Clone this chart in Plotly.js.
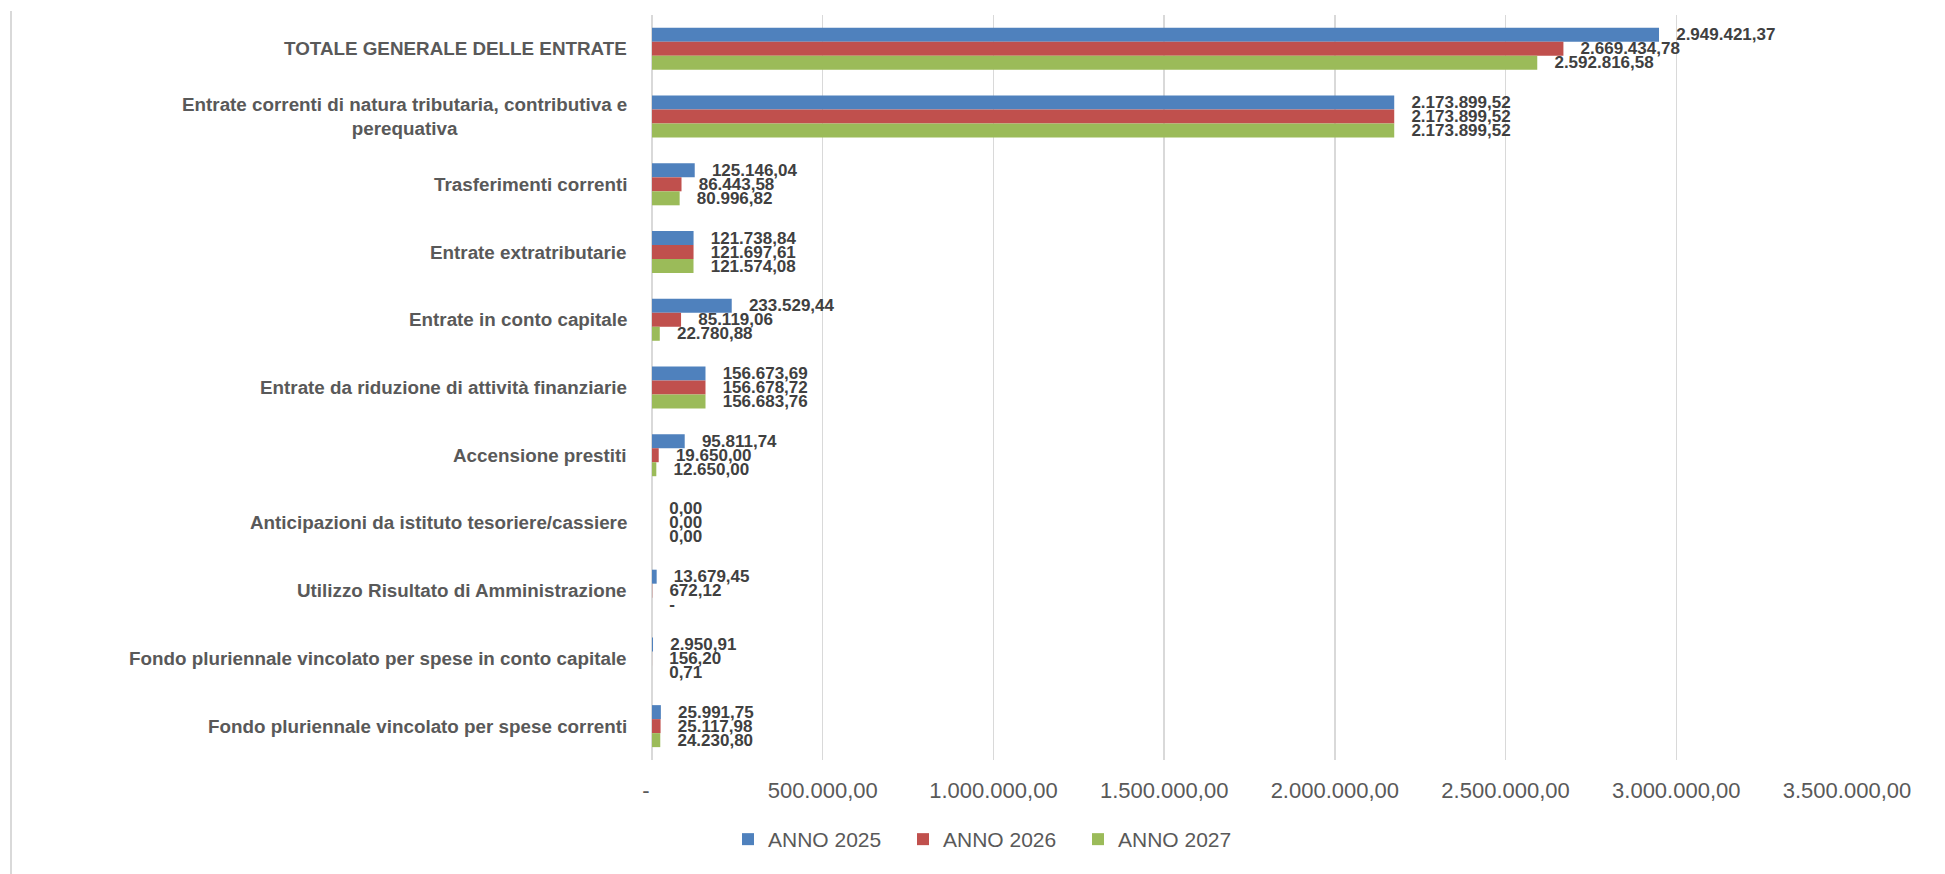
<!DOCTYPE html>
<html>
<head>
<meta charset="utf-8">
<script src="https://cdn.plot.ly/plotly-3.0.1.min.js"></script>
<style>
html,body{margin:0;padding:0;background:#ffffff;}
#chart{width:1945px;height:874px;}
</style>
</head>
<body>
<div id="chart"></div>
<script>
// ---- DATA ----
const categories = [
  'TOTALE GENERALE DELLE ENTRATE',
  'Entrate correnti di natura tributaria, contributiva e<br>perequativa',
  'Trasferimenti correnti',
  'Entrate extratributarie',
  'Entrate in conto capitale',
  'Entrate da riduzione di attività finanziarie',
  'Accensione prestiti',
  'Anticipazioni da istituto tesoriere/cassiere',
  'Utilizzo Risultato di Amministrazione',
  'Fondo pluriennale vincolato per spese in conto capitale',
  'Fondo pluriennale vincolato per spese correnti'
];
const seriesNames = ['ANNO 2025', 'ANNO 2026', 'ANNO 2027'];
const anno2025 = [2949421.37, 2173899.52, 125146.04, 121738.84, 233529.44, 156673.69, 95811.74, 0, 13679.45, 2950.91, 25991.75];
const anno2026 = [2669434.78, 2173899.52, 86443.58, 121697.61, 85119.06, 156678.72, 19650.00, 0, 672.12, 156.20, 25117.98];
const anno2027 = [2592816.58, 2173899.52, 80996.82, 121574.08, 22780.88, 156683.76, 12650.00, 0, null, 0.71, 24230.80];
const seriesColors = ['#4F81BD', '#C0504D', '#9BBB59'];
const tickValues = [0, 500000, 1000000, 1500000, 2000000, 2500000, 3000000, 3500000];

// ---- helpers ----
function fmt(v) {
  if (v === null) return '-';
  const parts = v.toFixed(2).split('.');
  return parts[0].replace(/\B(?=(\d{3})+(?!\d))/g, '.') + ',' + parts[1];
}
function measure(font, s) {
  const c = document.createElement('canvas').getContext('2d');
  c.font = font;
  return c.measureText(s).width;
}

// pick a narrow bold face for the category labels if present
const probe = 'TOTALE GENERALE DELLE ENTRATE';
let catFamily = 'Liberation Sans Narrow';
if (Math.abs(measure('bold 100px "Liberation Sans Narrow", monospace', probe) -
             measure('bold 100px monospace', probe)) < 1) {
  catFamily = 'Liberation Sans';
}
const catSize = 343 / measure('bold 100px "' + catFamily + '"', probe) * 100;

// ---- geometry ----
const W = 1945, H = 874;
const M = {l: 652, r: 98, t: 15, b: 114};
const plotW = W - M.l - M.r, plotH = H - M.t - M.b;
const px2paperX = x => (x - M.l) / plotW;
const px2paperY = y => (H - M.b - y) / plotH;

const allSeries = [anno2025, anno2026, anno2027];
const traces = allSeries.map((vals, k) => ({
  type: 'bar',
  orientation: 'h',
  name: seriesNames[k],
  y: categories,
  x: vals.map(v => (v === null ? 0 : v)),
  text: vals.map(v => '\u00a0\u00a0\u00a0' + fmt(v)),
  textposition: 'outside',
  textangle: 0,
  constraintext: 'none',
  cliponaxis: false,
  textfont: {family: 'Liberation Sans', size: 17, color: '#404040', weight: 'bold'},
  marker: {color: seriesColors[k]},
  hoverinfo: 'skip'
}));

const layout = {
  width: W, height: H,
  margin: M,
  paper_bgcolor: '#ffffff',
  plot_bgcolor: '#ffffff',
  barmode: 'group',
  bargap: 0.38,
  bargroupgap: 0,
  showlegend: true,
  legend: {
    orientation: 'h',
    x: px2paperX(728), xanchor: 'left',
    y: px2paperY(839.5), yanchor: 'middle',
    font: {family: 'Liberation Sans', size: 21, color: '#595959'},
    traceorder: 'normal',
    entrywidthmode: 'pixels',
    entrywidth: 130
  },
  xaxis: {
    range: [0, 3500000],
    tickvals: tickValues,
    ticktext: tickValues.map(v => (v === 0 ? '-\u00a0\u00a0' : fmt(v))),
    tickfont: {family: 'Liberation Sans', size: 22, color: '#595959'},
    showgrid: true, gridcolor: '#d9d9d9', gridwidth: 1.5,
    zeroline: true, zerolinecolor: '#d9d9d9', zerolinewidth: 1.5,
    showline: false,
    ticks: 'outside', ticklen: 11, tickcolor: 'rgba(0,0,0,0)',
    fixedrange: true
  },
  yaxis: {
    autorange: 'reversed',
    showticklabels: false, showgrid: false, zeroline: false, showline: false,
    ticks: '', fixedrange: true
  },
  annotations: categories.map(c => ({
    xref: 'paper', yref: 'y',
    x: px2paperX(629), y: c,
    xanchor: 'right', yanchor: 'middle', align: 'center',
    showarrow: false, text: c,
    font: {family: catFamily, size: catSize, color: '#595959', weight: 'bold'}
  })),
  shapes: [{
    type: 'line', xref: 'paper', yref: 'paper',
    x0: px2paperX(11), x1: px2paperX(11),
    y0: px2paperY(874), y1: px2paperY(11),
    line: {color: '#d9d9d9', width: 2}
  }]
};

Plotly.newPlot('chart', traces, layout, {displayModeBar: false, staticPlot: true});
</script>
</body>
</html>
